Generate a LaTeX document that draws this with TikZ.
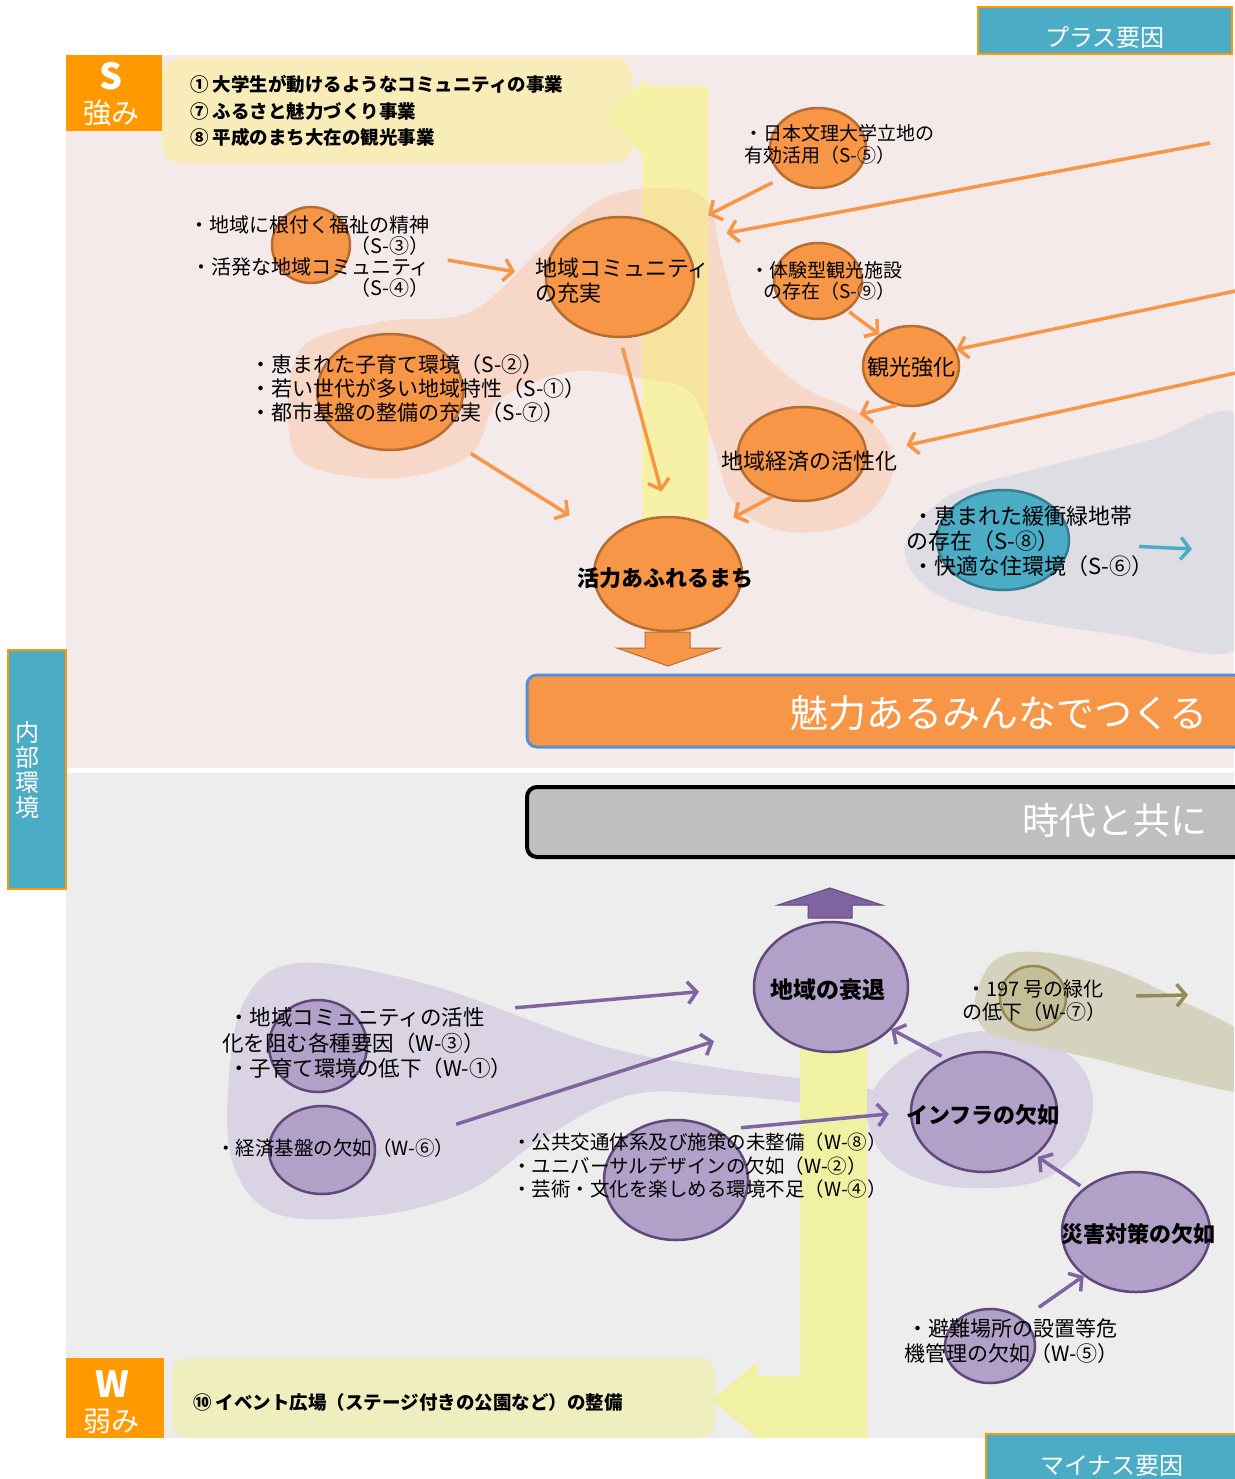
\documentclass[tikz,border=0pt]{standalone}
\usepackage{fontspec}
\setmainfont{Noto Sans CJK JP}
\usetikzlibrary{shapes.geometric, arrows.meta}

\definecolor{pinkbg}{RGB}{245,234,234}
\definecolor{greybg}{RGB}{237,237,237}
\definecolor{orgfill}{RGB}{247,150,70}
\definecolor{orgline}{RGB}{182,109,49}
\definecolor{orgblob}{RGB}{246,215,200}
\definecolor{ybarS}{RGB}{247,241,168}
\definecolor{ybarmix}{RGB}{246,228,158}
\definecolor{ybarW}{RGB}{241,241,163}
\definecolor{callS}{RGB}{248,236,185}
\definecolor{callW}{RGB}{238,238,190}
\definecolor{labor}{RGB}{255,153,0}
\definecolor{tealfill}{RGB}{75,172,198}
\definecolor{tealline}{RGB}{53,125,145}
\definecolor{greyblob}{RGB}{221,221,227}
\definecolor{purfill}{RGB}{177,160,199}
\definecolor{purline}{RGB}{96,73,122}
\definecolor{purarrow}{RGB}{128,100,162}
\definecolor{lavblob}{RGB}{218,211,227}
\definecolor{olfill}{RGB}{196,189,151}
\definecolor{olline}{RGB}{148,138,84}
\definecolor{olblob}{RGB}{214,210,192}
\definecolor{blueline}{RGB}{85,142,213}

\begin{document}
\begin{tikzpicture}[x=1pt, y=-1pt,
    ocirc/.style={ellipse, fill=orgfill, draw=orgline, line width=2.5pt, inner sep=0pt},
    pcirc/.style={ellipse, fill=purfill, draw=purline, line width=2.5pt, inner sep=0pt},
    txt/.style={inner sep=0pt, align=left, anchor=west},
    fs/.style 2 args={font=\fontsize{#1}{#2}\selectfont},
    fsb/.style 2 args={font=\fontsize{#1}{#2}\selectfont\bfseries},
    oarrow/.style={draw=orgfill, line width=3.5pt, -{Straight Barb[length=9pt,width=22pt]}},
    parrow/.style={draw=purarrow, line width=3.5pt, -{Straight Barb[length=9pt,width=22pt]}},
    labbox/.style={fill=tealfill, draw=labor, line width=1.5pt}]
    \useasboundingbox (0,0) rectangle (1234,1479);

    % panels
    \fill[pinkbg] (66,55) rectangle (1234,768);
    \fill[greybg] (66,773) rectangle (1234,1438);

    % callouts
    \fill[callS] (162,58) [rounded corners=18pt] rectangle (632,163);
    \fill[callW] (172,1358) [rounded corners=15pt] rectangle (715,1438);

    % blobs, top half
    \begin{scope}
        \clip (66,55) rectangle (1234,768);
        \fill[orgblob] plot[smooth cycle, tension=0.6] coordinates {(290,440) (300,350) (380,322) (470,312) (540,250) (600,200) (660,188) (706,200) (722,260) (745,330) (800,385) (870,420) (893,470) (860,520) (790,532) (735,505) (712,440) (690,392) (640,378) (570,372) (500,400) (470,455) (400,478) (320,470)};
        \fill[greyblob] plot[smooth cycle, tension=0.6] coordinates {(1240,415) (1150,440) (1040,468) (950,495) (905,545) (930,590) (1000,615) (1120,635) (1240,648) (1300,530)};
    \end{scope}
    % blobs, bottom half
    \begin{scope}
        \clip (66,773) rectangle (1234,1438);
        \fill[lavblob] plot[smooth cycle, tension=0.6] coordinates {(228,1090) (245,1000) (300,963) (430,985) (600,1045) (720,1068) (850,1085) (900,1100) (900,1118) (820,1105) (720,1095) (630,1095) (540,1140) (470,1190) (380,1215) (280,1215) (235,1170)};
        \fill[lavblob] plot[smooth cycle, tension=0.7] coordinates {(880,1080) (940,1040) (1010,1033) (1075,1060) (1092,1115) (1060,1170) (990,1188) (910,1175) (870,1130)};
        \fill[olblob] plot[smooth cycle, tension=0.6] coordinates {(975,1000) (995,960) (1040,952) (1110,968) (1180,1000) (1250,1040) (1250,1090) (1180,1080) (1100,1060) (1020,1042) (985,1030)};
    \end{scope}

    % yellow bent arrows
    \fill[ybarS] (604,117) -- (646,78) -- (646,86) -- (708,86) -- (708,520) -- (642,520) -- (642,155) -- cycle;
    \begin{scope}
        \clip plot[smooth cycle, tension=0.6] coordinates {(290,440) (300,350) (380,322) (470,312) (540,250) (600,200) (660,188) (706,200) (722,260) (745,330) (800,385) (870,420) (893,470) (860,520) (790,532) (735,505) (712,440) (690,392) (640,378) (570,372) (500,400) (470,455) (400,478) (320,470)};
        \fill[ybarmix] (642,86) rectangle (708,520);
    \end{scope}
    \fill[ybarW] (712,1400) -- (757,1362) -- (757,1376) -- (800,1376) -- (800,1020) -- (867,1020) -- (867,1438) -- (757,1438) -- cycle;

    % side labels
    \fill[labor] (66,55) rectangle (162,131);
    \fill[labor] (66,1358) rectangle (164,1438);
    \draw[labbox] (978,7) rectangle (1232,54);
    \draw[labbox] (986,1434) rectangle (1240,1490);
    \draw[labbox] (8,650) rectangle (66,889);

    % banners
    \draw[fill=orgfill, draw=blueline, line width=3pt, rounded corners=10pt] (527,675) rectangle (1260,747);
    \draw[fill=black!25, draw=black, line width=4pt, rounded corners=10pt] (527,787) rectangle (1260,857);

    % block arrows
    \draw[fill=orgfill, draw=orgline, line width=1pt] (645,632) -- (690,632) -- (690,648) -- (720,648) -- (668,666) -- (617,648) -- (645,648) -- cycle;
    \draw[fill=purarrow, draw=purline, line width=1pt] (808,918) -- (852,918) -- (852,905) -- (882,905) -- (830,888) -- (778,905) -- (808,905) -- cycle;

    % strengths
    \node[ocirc, minimum width=78pt, minimum height=76pt] (soc) at (311,245) {};
    \node[ocirc, minimum width=148pt, minimum height=120pt] (comm) at (620,277) {};
    \node[ocirc, minimum width=146pt, minimum height=116pt] (kids) at (390,392) {};
    \node[ocirc, minimum width=96pt, minimum height=80pt] (univ) at (818,148) {};
    \node[ocirc, minimum width=88pt, minimum height=76pt] (exper) at (818,281) {};
    \node[ocirc, minimum width=96pt, minimum height=80pt] (tour) at (911,366) {};
    \node[ocirc, minimum width=128pt, minimum height=94pt] (econ) at (802,454) {};
    \node[ocirc, minimum width=148pt, minimum height=114pt] (vital) at (668,574) {};
    \node[ellipse, fill=tealfill, draw=tealline, line width=2.5pt, minimum width=132pt, minimum height=100pt] (green) at (1003,540) {};

    % weaknesses
    \node[pcirc, minimum width=154pt, minimum height=130pt] (decl) at (831,987) {};
    \node[pcirc, minimum width=98pt, minimum height=92pt] (wcomm) at (318,1046) {};
    \node[pcirc, minimum width=106pt, minimum height=88pt] (wecon) at (322,1150) {};
    \node[pcirc, minimum width=144pt, minimum height=120pt] (wuni) at (676,1180) {};
    \node[pcirc, minimum width=146pt, minimum height=120pt] (infra) at (984,1112) {};
    \node[pcirc, minimum width=148pt, minimum height=120pt] (disas) at (1136,1232) {};
    \node[pcirc, minimum width=90pt, minimum height=74pt] (wshel) at (990,1346) {};
    \node[ellipse, fill=olfill, draw=olline, line width=2.5pt, minimum width=66pt, minimum height=64pt] (road) at (1033,998) {};

    % texts
    \node[txt, fsb={18.5}{26.5}] (strlist) at (190,111) {① 大学生が動けるようなコミュニティの事業\\⑦ ふるさと魅力づくり事業\\⑧ 平成のまち大在の観光事業};
    \node[inner sep=0pt, align=right, anchor=east, fs={20}{21}] (soctxt) at (430,257) {・地域に根付く福祉の精神\\（S-③）\\・活発な地域コミュニティ\\（S-④）};
    \node[txt, fs={22}{25}] (commtxt) at (535,281) {地域コミュニティ\\の充実};
    \node[txt, fs={21}{24}] (kidstxt) at (250,389) {・恵まれた子育て環境（S-②）\\・若い世代が多い地域特性（S-①）\\・都市基盤の整備の充実（S-⑦）};
    \node[txt, fs={19}{22}] (univtxt) at (744,144) {・日本文理大学立地の\\有効活用（S-⑤）};
    \node[txt, fs={19}{21}] (expertxt) at (750,281) {・体験型観光施設\\\hspace*{13pt}の存在（S-⑨）};
    \node[inner sep=0pt, fs={22}{25}] (tourtxt) at (911,367) {観光強化};
    \node[inner sep=0pt, fs={22}{25}] (econtxt) at (809,461) {地域経済の活性化};
    \node[inner sep=0pt, fsb={22}{25}] (vitaltxt) at (665,578) {活力あふれるまち};
    \node[txt, fs={22}{25}] (greentxt) at (906,541) {\hspace*{6pt}・恵まれた緩衝緑地帯\\の存在（S-⑧）\\\hspace*{6pt}・快適な住環境（S-⑥）};

    \node[txt, fs={21.5}{25.5}] (wcommtxt) at (222,1043) {\hspace*{6pt}・地域コミュニティの活性\\化を阻む各種要因（W-③）\\\hspace*{6pt}・子育て環境の低下（W-①）};
    \node[txt, fs={19.5}{22}] (wecontxt) at (216,1148) {・経済基盤の欠如（W-⑥）};
    \node[txt, fs={19.5}{23.5}] (wunitxt) at (512,1166) {・公共交通体系及び施策の未整備（W-⑧）\\・ユニバーサルデザインの欠如（W-②）\\・芸術・文化を楽しめる環境不足（W-④）};
    \node[inner sep=0pt, fsb={23}{25}] (decltxt) at (828,990) {地域の衰退};
    \node[txt, fs={20}{23}] (roadtxt) at (962,1001) {\hspace*{4pt}・197 号の緑化\\の低下（W-⑦）};
    \node[inner sep=0pt, fsb={22}{25}] (infratxt) at (983,1115) {インフラの欠如};
    \node[inner sep=0pt, fsb={22}{25}] (disastxt) at (1138,1234) {災害対策の欠如};
    \node[txt, fs={21}{25}] (wsheltxt) at (904,1341) {\hspace*{3pt}・避難場所の設置等危\\機管理の欠如（W-⑤）};
    \node[txt, fsb={18.5}{22}] (weaklist) at (193,1402) {⑩ イベント広場（ステージ付きの公園など）の整備};

    \node[inner sep=0pt, text=white, fsb={36}{36}] (stag) at (111,76) {S};
    \node[inner sep=0pt, text=white, fs={28}{28}] (stagj) at (111,113) {強み};
    \node[inner sep=0pt, text=white, fsb={36}{36}] (wtag) at (112,1384) {W};
    \node[inner sep=0pt, text=white, fs={28}{28}] (wtagj) at (111,1421) {弱み};
    \node[inner sep=0pt, text=white, fs={24}{24}] (plus) at (1105,38) {プラス要因};
    \node[inner sep=0pt, text=white, fs={24}{24}] (minus) at (1112,1466) {マイナス要因};
    \node[inner sep=0pt, text=white, align=center, fs={24}{25}] (inner) at (28,770) {内\\部\\環\\境};
    \node[inner sep=0pt, anchor=east, text=white, fs={38}{38}] (charm) at (1208,713) {魅力あるみんなでつくる};
    \node[inner sep=0pt, anchor=east, text=white, fs={37}{37}] (times) at (1208,820) {時代と共に};

    % free ends
    \coordinate (pl1) at (1210,143);
    \coordinate (pl2) at (1240,290);
    \coordinate (pl3) at (1240,372);
    \coordinate (greenend) at (1192,549);
    \coordinate (roadend) at (1188,995);

    % orange connectors
    \draw[oarrow, shorten <=18pt, shorten >=30pt] (soctxt.east) -- (comm.west);
    \draw[oarrow, shorten <=12pt, shorten >=40pt] (univ.220) -- (comm.40);
    \draw[oarrow, shorten >=46pt] (pl1) -- (comm.30);
    \draw[oarrow, shorten <=2pt] (exper.-45) -- (tour.135);
    \draw[oarrow] (pl2) -- (tour.20);
    \draw[oarrow, shorten >=15pt] (tour.250) -- (econ.40);
    \draw[oarrow, shorten >=40pt] (pl3) -- (econ.east);
    \draw[oarrow, shorten <=10pt, shorten >=25pt] (comm.south) -- (vital.north);
    \draw[oarrow, shorten <=35pt, shorten >=45pt] (kids.-40) -- (vital.150);
    \draw[oarrow, shorten >=22pt] (econ.235) -- (vital.45);
    \draw[draw=tealfill, line width=3.5pt, -{Straight Barb[length=9pt,width=22pt]}, shorten <=69pt] (green) -- (greenend);

    % purple connectors
    \draw[parrow, shorten <=155pt, shorten >=54pt] (wcomm.30) -- (decl.west);
    \draw[parrow, shorten <=84pt, shorten >=55pt] (wecon.east) -- (decl.210);
    \draw[parrow, shorten <=23pt, shorten >=21pt] (wuni.50) -- (infra.west);
    \draw[parrow, shorten <=6pt] (infra.125) -- (decl.-35);
    \draw[parrow, shorten <=4pt, shorten >=2pt] (disas.140) -- (infra.-40);
    \draw[parrow, shorten <=20pt] (wshel.40) -- (disas.220);
    \draw[draw=olline, line width=3.5pt, -{Straight Barb[length=9pt,width=22pt]}, shorten <=69pt] (road) -- (roadend);
\end{tikzpicture}
\end{document}
